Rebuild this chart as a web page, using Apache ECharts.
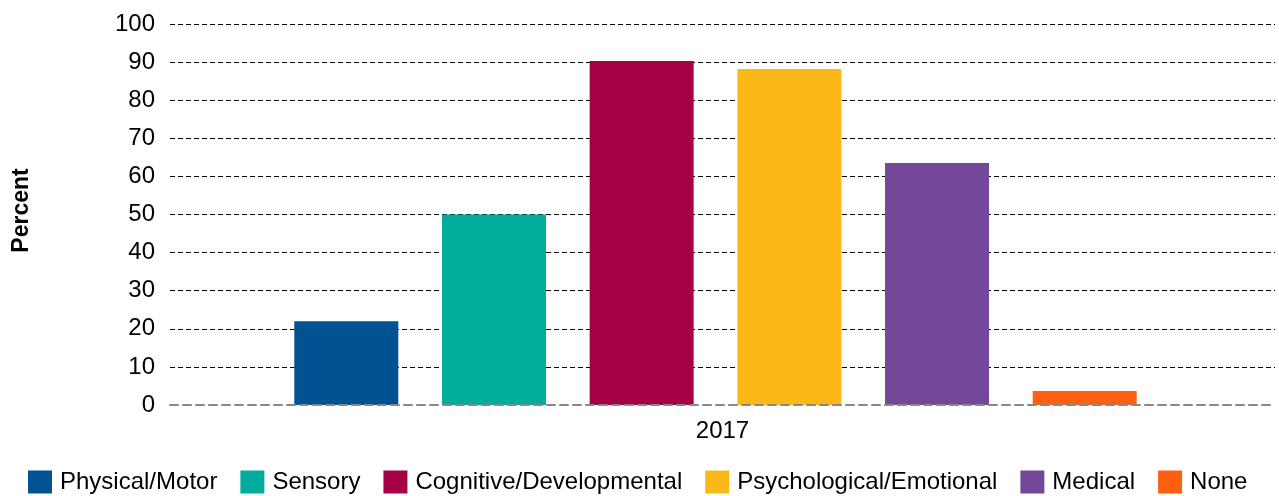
<!DOCTYPE html>
<html>
<head>
<meta charset="utf-8">
<script src="https://cdn.jsdelivr.net/npm/echarts@6/dist/echarts.min.js"></script>
<style>
  html, body { margin: 0; padding: 0; background: #fff; }
  #chart { width: 1279px; height: 496px; }
</style>
</head>
<body>
<div id="chart"></div>
<script>
// Survey year shown on the category axis
const years = ['2017'];
// Disability types, one bar each
const typeNames = ['Physical/Motor', 'Sensory', 'Cognitive/Developmental', 'Psychological/Emotional', 'Medical', 'None'];
const typeValues = [22.0, 50.0, 90.3, 88.2, 63.5, 3.7];
const typeColors = ['#005293', '#00AD9C', '#A50044', '#FBB817', '#744799', '#FF5F11'];
const yTicks = [0, 10, 20, 30, 40, 50, 60, 70, 80, 90, 100];

const FONT = 'Liberation Sans, Arial, sans-serif';

const chart = echarts.init(document.getElementById('chart'), null, { renderer: 'canvas' });

const series = typeNames.map((name, i) => ({
  name: name,
  type: 'bar',
  xAxisIndex: 1,
  yAxisIndex: 1,
  barWidth: 104,
  barGap: '42%',
  itemStyle: { color: typeColors[i] },
  data: [typeValues[i]]
}));

chart.setOption({
  animation: false,
  backgroundColor: '#fff',
  textStyle: { fontFamily: FONT },
  legend: {
    left: 28,
    top: 470,
    padding: 0,
    itemWidth: 24,
    itemHeight: 23,
    itemGap: 23,
    icon: 'rect',
    textStyle: { fontSize: 24, color: '#000', fontFamily: FONT, padding: [0, 0, 0, 3] },
    data: typeNames
  },
  grid: [
    { left: 170, right: 4, top: 24, bottom: 91, containLabel: false },
    { left: 156, right: 4, top: 24, bottom: 91, containLabel: false }
  ],
  xAxis: [
    {
      type: 'category',
      gridIndex: 0,
      data: years,
      z: 5,
      axisTick: { show: false },
      axisLine: { show: true, lineStyle: { color: '#888', width: 2, type: [8, 5] } },
      axisLabel: { fontSize: 24, color: '#000', margin: 14, fontFamily: FONT }
    },
    {
      type: 'category',
      gridIndex: 1,
      data: years,
      show: false
    }
  ],
  yAxis: [
    {
      type: 'value',
      gridIndex: 0,
      min: yTicks[0],
      max: yTicks[yTicks.length - 1],
      interval: yTicks[1] - yTicks[0],
      name: 'Percent',
      nameLocation: 'middle',
      nameRotate: 90,
      nameGap: 137,
      nameTextStyle: { fontSize: 23, fontWeight: 'bold', color: '#000', fontFamily: FONT, padding: [0, 0, 0, 8] },
      axisLine: { show: false },
      axisTick: { show: false },
      axisLabel: { fontSize: 24, color: '#000', margin: 15, fontFamily: FONT },
      splitLine: { show: true, showMinLine: false, lineStyle: { color: '#000', width: 1, type: [5, 3] } }
    },
    {
      type: 'value',
      gridIndex: 1,
      min: yTicks[0],
      max: yTicks[yTicks.length - 1],
      show: false,
      splitLine: { show: false }
    }
  ],
  series: series
});
</script>
</body>
</html>
